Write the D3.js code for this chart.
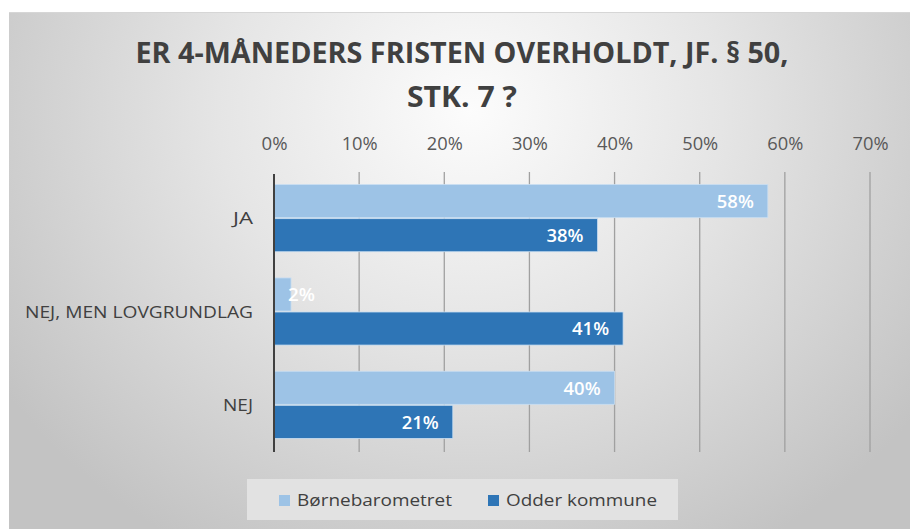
<!DOCTYPE html>
<html><head><meta charset="utf-8">
<script src="https://cdn.jsdelivr.net/npm/d3@7"></script>
<style>body{margin:0;background:#fff}svg{display:block}</style>
</head><body>
<script>
const categories = ["JA", "NEJ, MEN LOVGRUNDLAG", "NEJ"];
const seriesNames = ["Børnebarometret", "Odder kommune"];
const borneValues = [0.58, 0.02, 0.40];
const odderValues = [0.38, 0.41, 0.21];
const tickValues = [0, 0.1, 0.2, 0.3, 0.4, 0.5, 0.6, 0.7];
const colors = ["#9dc3e6", "#2e75b6"];
const titleLines = ["ER 4-MÅNEDERS FRISTEN OVERHOLDT, JF. § 50,", "STK. 7 ?"];

const W = 910, H = 529;
const svg = d3.select("body").append("svg").attr("width", W).attr("height", H);
const defs = svg.append("defs");
const rg = defs.append("radialGradient").attr("id", "bg")
  .attr("gradientUnits", "userSpaceOnUse")
  .attr("cx", 470).attr("cy", 110).attr("r", 560)
  .attr("gradientTransform", "translate(470,110) scale(1,0.9) translate(-470,-110)");
rg.append("stop").attr("offset", 0).attr("stop-color", "#fcfcfc");
rg.append("stop").attr("offset", 0.45).attr("stop-color", "#e5e5e5");
rg.append("stop").attr("offset", 1).attr("stop-color", "#c3c3c3");

svg.append("rect").attr("x", 9).attr("y", 12).attr("width", W - 9).attr("height", H - 12).attr("fill", "url(#bg)");
svg.append("line").attr("x1", 9).attr("x2", W).attr("y1", 12.5).attr("y2", 12.5).attr("stroke", "#d6d6d6");

// title
const tfont = "'Open Sans', sans-serif";
const titleW = [653, 110];
titleLines.forEach((t, i) => {
  svg.append("text")
    .attr("x", 462).attr("y", i === 0 ? 63 : 107)
    .attr("text-anchor", "middle")
    .attr("font-family", tfont).attr("font-weight", 700).attr("font-size", 29)
    .attr("fill", "#404040")
    .attr("textLength", titleW[i]).attr("lengthAdjust", "spacingAndGlyphs")
    .text(t);
});

const x0 = 274, xScale = d3.scaleLinear().domain([0, 0.7]).range([x0, 870]);
const y = d3.scaleBand().domain(categories).range([172, 452]).paddingInner(0.27).paddingOuter(0.135);
const ySub = d3.scaleBand().domain(seriesNames).range([0, y.bandwidth()]);

// gridlines
const grid = svg.append("g");
grid.selectAll("line").data(tickValues.slice(1)).join("line")
  .attr("x1", d => xScale(d)).attr("x2", d => xScale(d))
  .attr("y1", 172).attr("y2", 452)
  .attr("stroke", "#a0a0a0").attr("stroke-width", 1.3);

// top axis labels
const xAxis = d3.axisTop(xScale).tickValues(tickValues).tickFormat(d3.format(".0%")).tickSize(0);
const ax = svg.append("g").attr("transform", "translate(0,150)").call(xAxis);
ax.select(".domain").remove();
ax.selectAll("text").attr("font-family", "'Open Sans', sans-serif").attr("font-size", 17.5)
  .attr("fill", "#595959").attr("dy", 0).attr("y", 0)
  .attr("textLength", d => d === 0 ? 26 : 36).attr("lengthAdjust", "spacingAndGlyphs");

const data = categories.map((c, i) => ({ cat: c, vals: [borneValues[i], odderValues[i]] }));
const groups = svg.append("g").selectAll("g").data(data).join("g")
  .attr("transform", d => `translate(0,${y(d.cat)})`);
groups.selectAll("rect").data(d => d.vals.map((v, j) => ({ v, s: seriesNames[j], j }))).join("rect")
  .attr("x", x0).attr("y", d => ySub(d.s))
  .attr("width", d => xScale(d.v) - x0).attr("height", ySub.bandwidth() - 1)
  .attr("fill", d => colors[d.j]).attr("stroke", "#c9def2").attr("stroke-width", 0.8);
groups.selectAll("text").data(d => d.vals.map((v, j) => ({ v, s: seriesNames[j], j }))).join("text")
  .attr("x", d => d.v < 0.05 ? xScale(d.v) - 3 : xScale(d.v) - 14)
  .attr("text-anchor", d => d.v < 0.05 ? "start" : "end")
  .attr("y", d => ySub(d.s) + ySub.bandwidth() / 2)
  .attr("dy", "0.36em")
  .attr("font-family", "'Open Sans', sans-serif").attr("font-weight", 600).attr("font-size", 17.5)
  .attr("fill", "#ffffff").text(d => d3.format(".0%")(d.v))
  .attr("textLength", d => d.v < 0.1 ? 27 : 37).attr("lengthAdjust", "spacingAndGlyphs");

// y axis line
svg.append("line").attr("x1", x0).attr("x2", x0).attr("y1", 174).attr("y2", 452)
  .attr("stroke", "#404040").attr("stroke-width", 2);

// category labels
const catW = [20, 228, 30];
svg.append("g").selectAll("text").data(categories).join("text")
  .attr("x", 253).attr("y", d => y(d) + y.bandwidth() / 2).attr("dy", "0.36em")
  .attr("text-anchor", "end")
  .attr("font-family", "'Open Sans', sans-serif").attr("font-size", 15.5)
  .attr("fill", "#404040").text(d => d)
  .attr("textLength", (d, i) => catW[i]).attr("lengthAdjust", "spacingAndGlyphs");

// legend
const lg = svg.append("g");
lg.append("rect").attr("x", 247).attr("y", 479).attr("width", 431).attr("height", 41).attr("fill", "#e2e2e2");
const legX = [279, 488], legTextW = [155, 151];
seriesNames.forEach((s, i) => {
  lg.append("rect").attr("x", legX[i]).attr("y", 495).attr("width", 11).attr("height", 11).attr("fill", colors[i]);
  lg.append("text").attr("x", legX[i] + 18).attr("y", 500.5).attr("dy", "0.35em")
    .attr("font-family", "'Open Sans', sans-serif").attr("font-size", 15.5).attr("fill", "#404040")
    .attr("textLength", legTextW[i]).attr("lengthAdjust", "spacingAndGlyphs").text(s);
});
</script>
</body></html>
